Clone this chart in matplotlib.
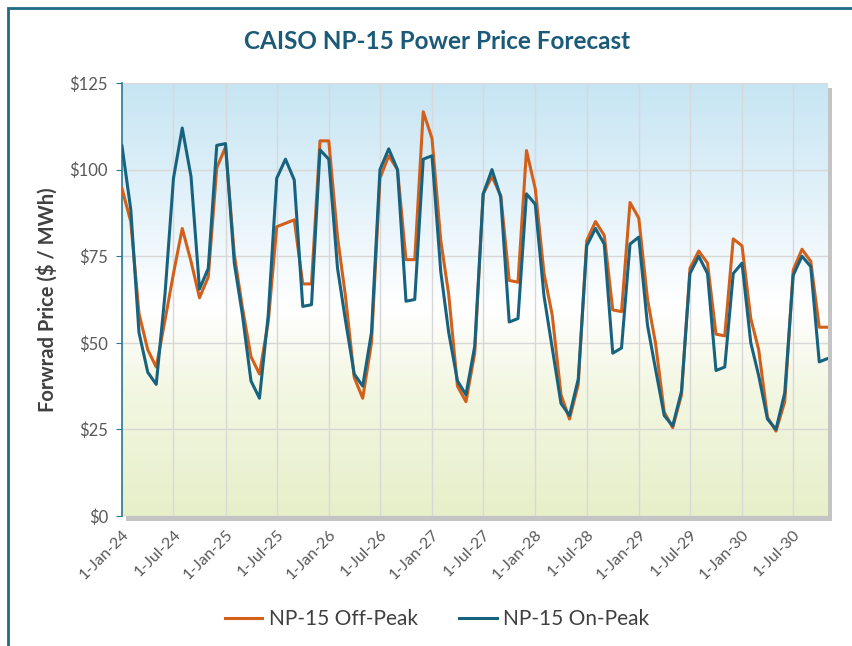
import numpy as np
import pandas as pd
import matplotlib
matplotlib.use("Agg")
import matplotlib.pyplot as plt
from matplotlib.colors import LinearSegmentedColormap
from matplotlib.patches import Rectangle

# monthly forward prices, Jan-2024 .. Nov-2030 ($/MWh)
months = pd.date_range("2024-01-01", periods=83, freq="MS")

off_peak = [94.5, 85, 58.5, 48, 43, 56.5, 70, 83, 73.5, 63, 69, 100.5,
            106.5, 75.5, 60.5, 46, 41, 56, 83.5, 84.5, 85.5, 67, 67, 108.3,
            108.3, 80.5, 63.5, 40, 34, 50, 97.5, 104, 100, 74, 74, 116.7,
            109, 79.5, 64, 37.5, 33, 47, 93, 98, 92.5, 68, 67.5, 105.5,
            94.5, 70, 58, 35, 28, 38, 79.5, 85, 81, 59.5, 59, 90.5,
            86, 62.5, 50, 30, 25.5, 35, 71.5, 76.5, 73, 52.5, 52, 80,
            78, 57, 48, 28.5, 24.5, 33, 71, 77, 73.5, 54.5, 54.5]

on_peak = [106.8, 88.5, 53, 41.5, 38, 64, 97.5, 112, 98, 65.5, 71.5, 107,
           107.5, 73, 58.5, 39, 34, 58, 97.5, 103, 97, 60.5, 61, 105.7,
           103, 71.5, 56.5, 41, 37.5, 53, 100, 106, 100, 62, 62.5, 103,
           104, 70.5, 53, 39, 35, 49, 93, 100, 92, 56, 57, 93,
           90, 63.5, 48.5, 32.5, 29, 39.5, 78, 83, 78.5, 47, 48.5, 78.5,
           80.5, 55, 42.5, 29, 26, 36, 70, 75, 70, 42, 43, 70,
           73, 50, 40.5, 28, 25, 35.5, 69.5, 75, 72, 44.5, 45.5]

tick_dates = pd.date_range("2024-01-01", "2030-07-01", freq="6MS")
y_ticks = [0, 25, 50, 75, 100, 125]

plt.rcParams["font.family"] = ["Lato", "DejaVu Sans"]

fig = plt.figure(figsize=(8.52, 6.46), dpi=100)
fig.patch.set_facecolor("white")

# outer frame (only top and left edges fall inside the picture)
fig.patches.append(Rectangle((8 / 852, -0.05), 2.0, 1 - 8 / 646 + 0.05,
                             transform=fig.transFigure, fill=False,
                             edgecolor="#1f6b85", linewidth=2, zorder=0))

left, right, top, bottom = 122 / 852, 828 / 852, 1 - 83 / 646, 1 - 516 / 646

# drop shadow behind plot area
fig.patches.append(Rectangle((left + 4 / 852, bottom - 5 / 646), right - left, top - bottom,
                             transform=fig.transFigure, facecolor="#c4c4c4",
                             edgecolor="none", zorder=0))

ax = fig.add_axes([left, bottom, right - left, top - bottom])
ax.set_zorder(2)

cmap = LinearSegmentedColormap.from_list(
    "bg", [(0.0, "#e7efc9"), (0.3, "#f3f7e3"), (0.48, "#ffffff"), (0.75, "#e1f1f9"), (1.0, "#c6e5f3")])
grad = np.linspace(0, 1, 256).reshape(-1, 1)
ax.imshow(grad, aspect="auto", cmap=cmap, origin="lower",
          extent=[0, 1, 0, 1], transform=ax.transAxes, zorder=0)

ax.plot(months, off_peak, color="#d2601a", linewidth=2.2, label="NP-15 Off-Peak", zorder=3)
ax.plot(months, on_peak, color="#17637f", linewidth=2.2, label="NP-15 On-Peak", zorder=4)

ax.set_xlim(months[0], months[-1])
ax.set_ylim(0, 125)

ax.set_yticks(y_ticks)
ax.set_yticklabels([f"${v}" for v in y_ticks], fontsize=12, color="#595959")
ax.set_xticks(tick_dates)
ax.set_xticklabels([f"1-{d:%b}-{d:%y}" for d in tick_dates], rotation=45,
                   ha="right", rotation_mode="anchor", fontsize=11.5, color="#595959")

ax.grid(True, color="#d8d8d8", linewidth=1)
ax.set_axisbelow(True)
for s in ["top", "right", "bottom"]:
    ax.spines[s].set_visible(False)
ax.spines["left"].set_color("#2a7a93")
ax.spines["left"].set_linewidth(1.2)
ax.tick_params(axis="y", length=4, color="#2a7a93", pad=6)
ax.tick_params(axis="x", length=0, pad=8)

fig.text(0.513, 0.935, "CAISO NP-15 Power Price Forecast", ha="center", va="center",
         fontsize=17.5, fontweight="bold", color="#1b5a78")
fig.text(0.055, 0.536, "Forwrad Price ($ / MWh)", rotation=90, ha="center", va="center",
         fontsize=14.5, fontweight="bold", color="#404040")

fig.legend(loc="center", bbox_to_anchor=(0.513, 0.042), ncol=2, frameon=False,
           fontsize=15, handlelength=1.8, handletextpad=0.3, columnspacing=2.0,
           labelcolor="#404040")

fig.savefig("out.png", dpi=100)
